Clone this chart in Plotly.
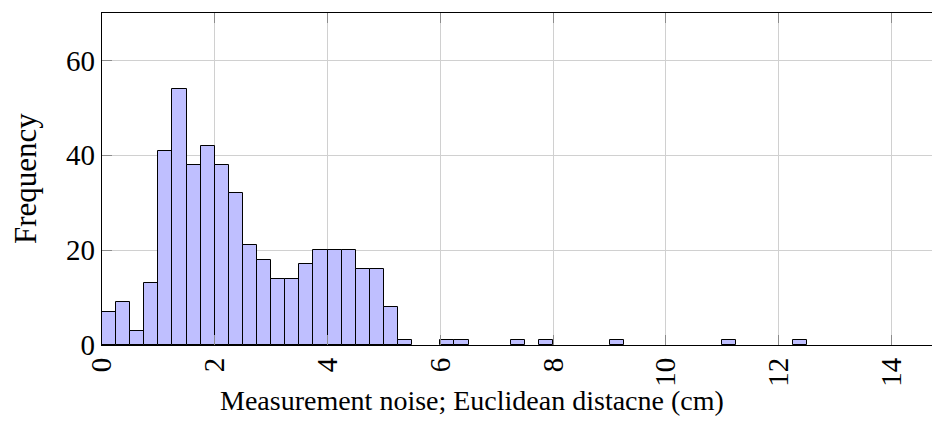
import plotly.graph_objects as go

bin_width = 0.25
bin_starts = [0.0, 0.25, 0.5, 0.75, 1.0, 1.25, 1.5, 1.75, 2.0, 2.25, 2.5, 2.75,
              3.0, 3.25, 3.5, 3.75, 4.0, 4.25, 4.5, 4.75, 5.0, 5.25,
              6.0, 6.25, 7.25, 7.75, 9.0, 11.0, 12.25]
counts = [7, 9, 3, 13, 41, 54, 38, 42, 38, 32, 21, 18,
          14, 14, 17, 20, 20, 20, 16, 16, 8, 1,
          1, 1, 1, 1, 1, 1, 1]

x_ticks = [0, 2, 4, 6, 8, 10, 12, 14]
y_ticks = [0, 20, 40, 60]
x_title = "Measurement noise; Euclidean distacne (cm)"
y_title = "Frequency"

FONT = "Liberation Serif"
OFF = 8  # page body margin
W, H = 940 - OFF, 437 - 2 * OFF
L, R, T = 102 - OFF, 0, 13 - OFF
B = H - T - (345 - 13)
PW, PH = W - L - R, H - T - B

fig = go.Figure()
fig.add_trace(go.Bar(
    x=bin_starts, y=counts, width=bin_width, offset=0,
    marker=dict(color="#bfbfff", line=dict(color="black", width=1)),
))

fig.update_layout(
    width=W, height=H,
    margin=dict(l=L, r=R, t=T, b=B),
    plot_bgcolor="white", paper_bgcolor="white",
    showlegend=False, bargap=0,
    font=dict(family=FONT, size=28, color="black"),
)
fig.update_xaxes(
    range=[0, 14.86], tickvals=x_ticks, ticktext=[str(v) for v in x_ticks],
    tickangle=-90, showgrid=True, gridcolor="#d0d0d0", gridwidth=1,
    showline=True, linecolor="black", linewidth=1.2, mirror="ticks",
    ticks="inside", ticklen=10, tickcolor="#8c8c8c", tickwidth=1,
    tickfont=dict(family=FONT, size=29),
    automargin=False, zeroline=False,
)
fig.update_yaxes(
    range=[0, 70], tickvals=y_ticks, ticktext=[str(v) for v in y_ticks],
    showgrid=True, gridcolor="#d0d0d0", gridwidth=1,
    showline=True, linecolor="black", linewidth=1.2, mirror=False,
    ticks="inside", ticklen=10, tickcolor="#8c8c8c", tickwidth=1,
    tickfont=dict(family=FONT, size=29),
    automargin=False, zeroline=False,
)
fig.add_annotation(
    text=x_title, xref="paper", yref="paper",
    x=(472 - 102) / PW, y=(345 - 400) / PH,
    xanchor="center", yanchor="middle", showarrow=False,
    font=dict(family=FONT, size=28),
)
fig.add_annotation(
    text=y_title, xref="paper", yref="paper",
    x=(25 - 102) / PW, y=0.5, textangle=-90,
    xanchor="center", yanchor="middle", showarrow=False,
    font=dict(family=FONT, size=31),
)

fig.write_html("out.html")
